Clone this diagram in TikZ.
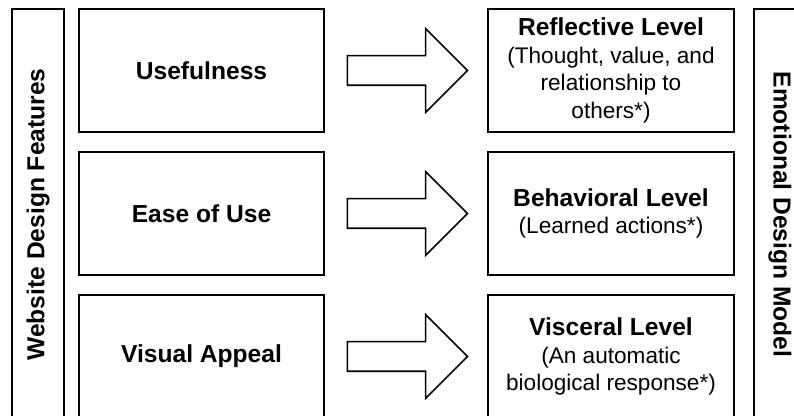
\documentclass[tikz,border=0pt]{standalone}
\usepackage{fontspec}
\setmainfont{Liberation Sans}
\usetikzlibrary{shapes.arrows, positioning}

\begin{document}
\begin{tikzpicture}[x=0.5pt, y=-0.5pt,
    feature/.style={rectangle, draw, line width=0.8pt, minimum width=122.5pt, minimum height=61.5pt, font=\fontsize{12.3}{15}\selectfont\bfseries},
    level/.style={rectangle, draw, line width=0.8pt, minimum width=123pt, minimum height=61.5pt, align=center, inner sep=0pt, font=\fontsize{11.3}{13.9}\selectfont},
    sidebar/.style={rectangle, draw, line width=0.8pt, minimum width=205.5pt, minimum height=26pt, font=\fontsize{12.3}{15}\selectfont\bfseries},
    blockarrow/.style={single arrow, draw, line width=0.8pt, minimum height=60pt, inner xsep=0pt, inner ysep=7pt, single arrow head extend=13.5pt}
]
\clip (0,0) rectangle (794,416);
\node[sidebar, rotate=90] (features) at (38, 214.5) {Website Design Features};
\node[sidebar, rotate=-90] (model) at (780, 214.5) {Emotional Design Model};
\node[feature] (useful) at (201.5, 70.5) {Usefulness};
\node[feature] (ease) at (201.5, 213.5) {Ease of Use};
\node[feature] (visual) at (201.5, 356.5) {Visual Appeal};
\node[level] (reflective) at (611, 70.5) {\textbf{\fontsize{12.3}{15}\selectfont Reflective Level}\\(Thought, value, and\\relationship to\\others*)};
\node[level] (behavioral) at (611, 213.5) {\textbf{\fontsize{12.3}{15}\selectfont Behavioral Level}\\(Learned actions*)};
\node[level] (visceral) at (611, 356.5) {\textbf{\fontsize{12.3}{15}\selectfont Visceral Level}\\(An automatic\\biological response*)};
\node[blockarrow] (arrowtop) at (400, 70.5) {};
\node[blockarrow] (arrowmid) at (400, 213.5) {};
\node[blockarrow] (arrowlow) at (400, 356.5) {};
\end{tikzpicture}
\end{document}
